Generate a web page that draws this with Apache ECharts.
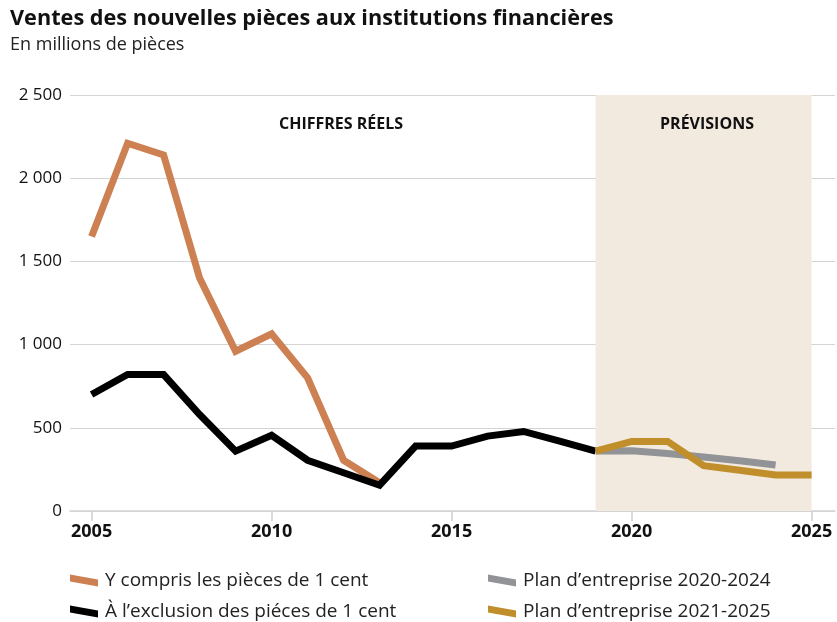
<!DOCTYPE html>
<html>
<head>
<meta charset="utf-8">
<script src="https://cdn.jsdelivr.net/npm/echarts@6/dist/echarts.min.js"></script>
<style>
  html, body { margin: 0; padding: 0; background: #fff; }
  #chart { width: 837px; height: 622px; }
</style>
</head>
<body>
<div id="chart"></div>
<script>
// données (millions de pièces)
const years = [2005, 2006, 2007, 2008, 2009, 2010, 2011, 2012, 2013, 2014, 2015,
  2016, 2017, 2018, 2019, 2020, 2021, 2022, 2023, 2024, 2025];
const avec1cent = [1650, 2210, 2140, 1400, 960, 1065, 800, 305, 170, null, null,
  null, null, null, null, null, null, null, null, null, null];
const sans1cent = [700, 820, 820, 580, 360, 455, 305, 230, 155, 390, 390,
  450, 478, 420, 360, null, null, null, null, null, null];
const plan2020 = [null, null, null, null, null, null, null, null, null, null, null,
  null, null, null, 360, 362, 345, 325, 302, 277, null];
const plan2021 = [null, null, null, null, null, null, null, null, null, null, null,
  null, null, null, 360, 418, 418, 272, 245, 217, 217];
const tickYears = [2005, 2010, 2015, 2020, 2025];
const names = [
  'Y compris les pièces de 1 cent',
  'À l’exclusion des piéces de 1 cent',
  'Plan d’entreprise 2020-2024',
  'Plan d’entreprise 2021-2025'
];
const colors = ['#cd8153', '#000000', '#929396', '#c08e2b'];

const FONT = '"Open Sans", Lato, sans-serif';
const icon = 'path://M0,0 L28,5 L28,12 L0,7 Z';

function pairs(vals) {
  return years.map((y, i) => [y, vals[i]]).filter(d => d[1] != null);
}

function lineSeries(idx, vals, extra) {
  return Object.assign({
    name: names[idx],
    type: 'line',
    data: pairs(vals),
    symbol: 'none',
    lineStyle: { width: 7, color: colors[idx], cap: 'butt', join: 'miter' },
    itemStyle: { color: colors[idx] },
    emphasis: { disabled: true }
  }, extra || {});
}

function legendBlock(left, list) {
  return {
    orient: 'vertical', left: left, top: 571, itemGap: 12, padding: 0,
    itemWidth: 28, itemHeight: 12, height: 80,
    data: list.map(n => ({ name: n, icon: icon })),
    textStyle: { fontFamily: FONT, fontSize: 19, color: '#222', padding: [0, 0, 0, 2] },
    selectedMode: false
  };
}

const chart = echarts.init(document.getElementById('chart'));

chart.setOption({
  animation: false,
  backgroundColor: '#fff',
  textStyle: { fontFamily: FONT },
  title: [
    {
      text: 'Ventes des nouvelles pièces aux institutions financières',
      left: 10, top: 8, padding: 0,
      textStyle: { fontFamily: FONT, fontSize: 21.7, fontWeight: 'bold', color: '#111' }
    },
    {
      text: 'En millions de pièces',
      left: 10, top: 36, padding: 0,
      textStyle: { fontFamily: FONT, fontSize: 18, fontWeight: 'normal', color: '#222' }
    }
  ],
  graphic: [
    {
      type: 'text', x: 341, y: 124, z: 100,
      style: { text: 'CHIFFRES RÉELS', font: 'bold 16px ' + FONT, fill: '#111',
        textAlign: 'center', textVerticalAlign: 'middle' }
    },
    {
      type: 'text', x: 707, y: 124, z: 100,
      style: { text: 'PRÉVISIONS', font: 'bold 16px ' + FONT, fill: '#111',
        textAlign: 'center', textVerticalAlign: 'middle' }
    }
  ],
  legend: [
    legendBlock(70, [names[0], names[1]]),
    legendBlock(488, [names[2], names[3]])
  ],
  grid: { left: 70, right: 2, top: 95, bottom: 111 },
  xAxis: {
    type: 'value',
    min: 2004.4,
    max: 2025.65,
    splitLine: { show: false },
    axisLine: { show: true, lineStyle: { color: '#d4d4d4', width: 1.5 } },
    axisTick: {
      show: true, length: 10, customValues: tickYears,
      lineStyle: { color: '#cfcfcf', width: 1.5 }
    },
    axisLabel: {
      customValues: tickYears, margin: 12,
      fontFamily: FONT, fontSize: 18, fontWeight: 'bold', color: '#111',
      formatter: v => String(v)
    }
  },
  yAxis: {
    type: 'value',
    min: 0, max: 2500, interval: 500,
    axisLine: { show: false },
    axisTick: { show: false },
    splitLine: { lineStyle: { color: '#d4d4d4', width: 1.2 } },
    axisLabel: {
      margin: 8,
      fontFamily: FONT, fontSize: 17, color: '#111',
      formatter: v => v.toLocaleString('fr-FR').replace(/\s/g, ' ')
    }
  },
  series: [
    lineSeries(0, avec1cent, {
      markArea: {
        silent: true,
        itemStyle: { color: '#f3eadf' },
        data: [[{ xAxis: 2019, yAxis: 0 }, { xAxis: 2025, yAxis: 2500 }]]
      }
    }),
    lineSeries(1, sans1cent),
    lineSeries(2, plan2020),
    lineSeries(3, plan2021)
  ]
});
</script>
</body>
</html>
